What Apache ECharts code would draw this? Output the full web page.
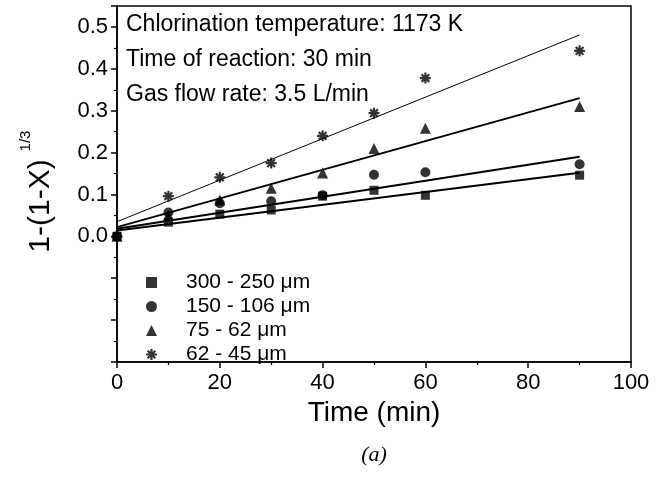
<!DOCTYPE html>
<html><head><meta charset="utf-8">
<script src="https://cdn.jsdelivr.net/npm/echarts@6/dist/echarts.min.js"></script>
<style>html,body{margin:0;padding:0;background:#fff}#c{width:665px;height:477px}</style>
</head><body><div id="c"></div>
<script>
const times = [0, 10, 20, 30, 40, 50, 60, 90];
const seriesNames = ['300 - 250 \u03bcm', '150 - 106 \u03bcm', '75 - 62 \u03bcm', '62 - 45 \u03bcm'];
const s300 = [0.0, 0.034, 0.053, 0.063, 0.096, 0.110, 0.098, 0.146];
const s150 = [0.0, 0.057, 0.079, 0.084, 0.098, 0.147, 0.153, 0.172];
const s75  = [0.0, 0.050, 0.087, 0.115, 0.151, 0.210, 0.258, 0.310];
const s62  = [0.0, 0.096, 0.141, 0.175, 0.240, 0.294, 0.378, 0.443];
// fitted line endpoints (t = 0 and t = 90)
const fitX = [0, 90];
const fit300 = [0.014, 0.152];
const fit150 = [0.018, 0.190];
const fit75  = [0.022, 0.330];
const fit62  = [0.035, 0.481];
const xTicks = [0, 20, 40, 60, 80, 100];
const yTickLabels = ['0.0', '0.1', '0.2', '0.3', '0.4', '0.5'];
const notes = ['Chlorination temperature: 1173 K', 'Time of reaction: 30 min', 'Gas flow rate: 3.5 L/min'];

const FONT = "'Liberation Sans', Arial, Helvetica, sans-serif";
const star = 'path://M-1,-5L1,-5L1,5L-1,5Z M-5,-1L5,-1L5,1L-5,1Z M-2.8,-4.2L4.2,2.8L2.8,4.2L-4.2,-2.8Z M2.8,-4.2L4.2,-2.8L-2.8,4.2L-4.2,2.8Z';
const pts = arr => times.map((t, i) => [t, arr[i]]);
const fit = arr => fitX.map((t, i) => [t, arr[i]]);

const chart = echarts.init(document.getElementById('c'));
const scat = (name, data, symbol, size) => ({
  name, type: 'scatter', data: pts(data), symbol, symbolSize: size,
  itemStyle: { color: '#000' }, z: 3
});
const ln = (data, w) => ({
  type: 'line', data: fit(data), symbol: 'none', silent: true,
  lineStyle: { color: '#000', width: w }, z: 2
});
chart.setOption({
  animation: false,
  backgroundColor: '#fff',
  grid: { left: 117, top: 6, right: 34, bottom: 115, show: true, borderColor: '#000', borderWidth: 1.5, backgroundColor: 'transparent' },
  xAxis: {
    type: 'value', min: 0, max: 100, interval: 20,
    name: 'Time (min)', nameLocation: 'middle', nameGap: 36,
    nameTextStyle: { fontFamily: FONT, fontSize: 28, color: '#000' },
    axisLine: { onZero: false, lineStyle: { color: '#000', width: 1.5 } },
    axisTick: { length: 6, lineStyle: { color: '#000', width: 1.5 } },
    minorTick: { show: true, splitNumber: 2, length: 3, lineStyle: { color: '#000', width: 1.2 } },
    splitLine: { show: false },
    axisLabel: { fontFamily: FONT, fontSize: 22, color: '#000', margin: 10,
      formatter: v => xTicks.includes(v) ? String(v) : '' }
  },
  yAxis: {
    type: 'value', min: -0.3, max: 0.55, interval: 0.1,
    axisLine: { onZero: false, lineStyle: { color: '#000', width: 1.5 } },
    axisTick: { length: 6, lineStyle: { color: '#000', width: 1.5 } },
    minorTick: { show: true, splitNumber: 2, length: 3, lineStyle: { color: '#000', width: 1.2 } },
    splitLine: { show: false },
    axisLabel: { fontFamily: FONT, fontSize: 22, color: '#000', margin: 9, showMaxLabel: false,
      formatter: v => { const s = (Math.round(v * 10) / 10).toFixed(1); return yTickLabels.includes(s) && v > -0.01 ? s : ''; } }
  },
  legend: {
    orient: 'vertical', left: 141, top: 267, itemGap: 3, itemWidth: 11, itemHeight: 11,
    data: seriesNames,
    textStyle: { fontFamily: FONT, fontSize: 21, color: '#000', padding: [0, 0, 0, 24] },
    selectedMode: false
  },
  series: [
    ln(fit300, 2), ln(fit150, 2), ln(fit75, 2), ln(fit62, 1),
    scat(seriesNames[0], s300, 'rect', 9),
    scat(seriesNames[1], s150, 'circle', 10),
    scat(seriesNames[2], s75, 'triangle', 11),
    scat(seriesNames[3], s62, star, 11)
  ],
  graphic: [
    ...notes.map((t, i) => ({ type: 'text', left: 126, top: 13 + i * 35,
      style: { text: t, font: "23px " + FONT, fill: '#000' } })),
    { type: 'text', x: 41, y: 206, rotation: Math.PI / 2,
      style: { text: '1-(1-X)', font: "30px " + FONT, fill: '#000', textAlign: 'center', textVerticalAlign: 'middle' } },
    { type: 'text', x: 26, y: 141, rotation: Math.PI / 2,
      style: { text: '1/3', font: "15px " + FONT, fill: '#000', textAlign: 'center', textVerticalAlign: 'middle' } },
    { type: 'text', x: 374, y: 455,
      style: { text: '(a)', font: "italic 22px 'Liberation Serif', 'Times New Roman', serif", fill: '#000', textAlign: 'center', textVerticalAlign: 'middle' } }
  ]
});
</script></body></html>
